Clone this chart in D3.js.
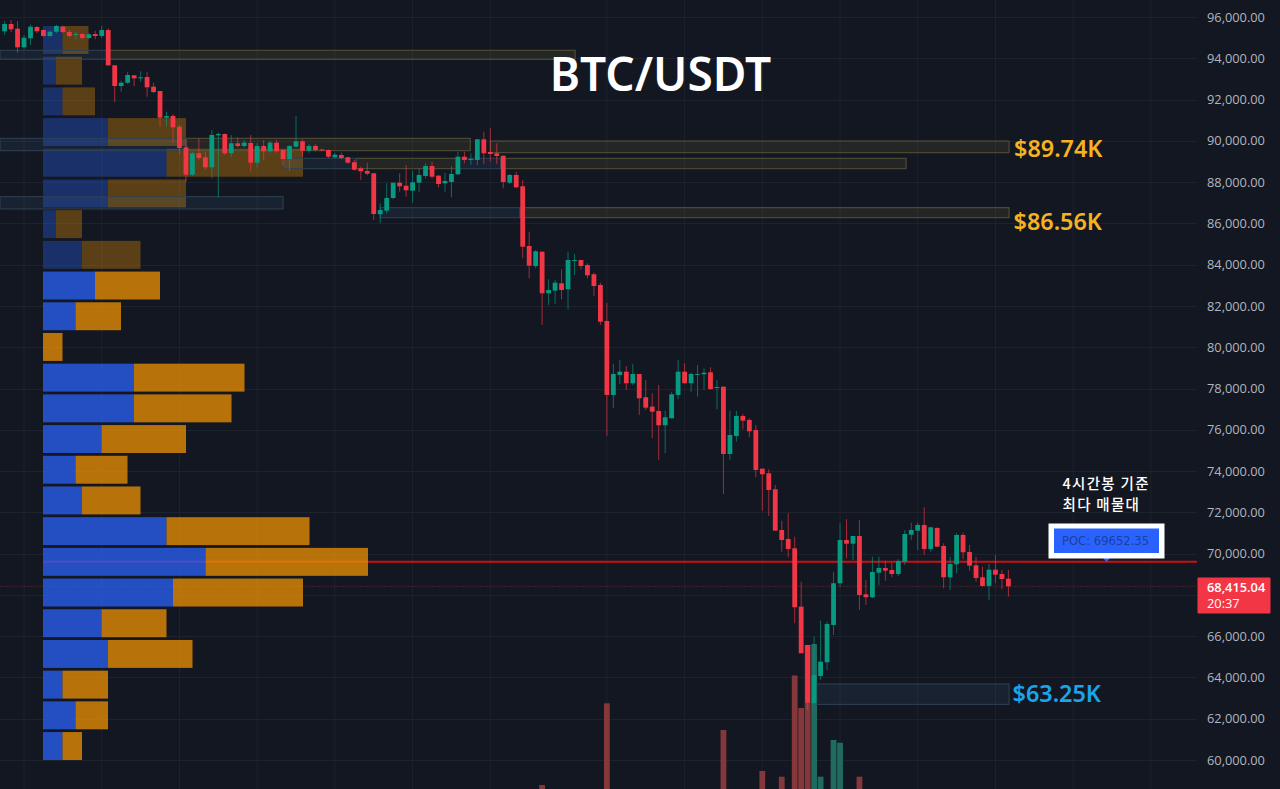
<!DOCTYPE html>
<html><head><meta charset="utf-8">
<script src="https://cdn.jsdelivr.net/npm/d3@7"></script>
<style>html,body{margin:0;padding:0;background:#131722;overflow:hidden}svg{display:block}</style>
</head><body><svg id="c" width="1280" height="789"></svg>
<script>
// Candles: [open, high, low, close]
const ohlc = [
[95307,95806,95128,95661],[95661,95855,95273,95404],[95433,95806,94270,94532],[94532,95128,94450,94997],
[94968,95627,94644,95530],[95516,95564,95225,95307],[95370,95404,95045,95079],[95079,95336,95045,95288],
[95288,95627,95210,95564],[95530,95598,95210,95273],[95273,95370,95016,95079],[95128,95273,94920,95176],
[95176,95210,94920,94983],[94983,95210,94920,95162],[95176,95336,94920,95079],[95079,95564,94968,95370],
[95370,95453,93626,93660],[93660,93660,91882,92657],[92657,92914,92381,92817],[92817,93350,92754,93190],
[93175,93190,92657,93030],[93030,93369,92865,93078],[93093,93335,92139,92594],[92623,92817,92303,92366],
[92415,92415,90685,91121],[91121,91412,90719,91203],[91203,91300,89910,90656],[90685,90768,89362,89653],
[89687,90089,88020,88359],[88359,89474,88297,89396],[89396,90123,89072,89168],[89203,89474,88621,88718],
[88718,90525,88185,90283],[90269,90394,87265,90332],[90332,90365,89314,89396],[89396,90283,89232,89881],
[89881,90172,89687,89750],[89750,90041,89687,89910],[89895,90283,88525,88941],[88941,89881,88718,89750],
[89750,90041,89072,89493],[89493,90007,89425,89910],[89910,90041,89425,89493],[89556,89590,88781,89120],
[89120,89799,88554,89750],[89716,91203,89687,89978],[89978,90075,89232,89522],[89522,89847,89425,89750],
[89750,89847,89493,89556],[89580,89620,89522,89556],[89556,89590,89168,89232],[89203,89425,89135,89328],
[89314,89425,89106,89168],[89203,89232,88878,88941],[88960,89072,88554,88602],[88670,88747,88103,88525],
[88539,88941,88330,88408],[88427,88427,86165,86455],[86441,86974,86005,86649],[86615,87943,86490,87231],
[87231,87972,87168,87972],[87972,88427,87536,87798],[87826,88830,87294,87604],[87584,88554,87003,87991],
[87972,88670,87536,88345],[88297,88912,88185,88781],[88781,88989,88185,88263],[88311,88345,87749,87909],
[87943,88456,87536,88055],[88006,88781,87265,88393],[88379,89474,88345,89232],[89232,89474,88912,89072],
[89086,89396,88830,89120],[89072,90075,88830,90075],[90075,90443,88878,89396],[89459,90608,88989,89362],
[89396,89881,88878,89266],[89280,89280,87700,88006],[87972,88393,87909,88345],[88345,88505,87700,87749],
[87798,88103,84309,84871],[84905,85598,83340,83951],[83936,84711,83824,84648],[84629,84629,81078,82613],
[82613,83291,82047,82773],[82740,83258,82096,83127],[83098,83776,82323,82773],[82807,84629,81838,84227],
[84193,84518,83500,84227],[84227,84227,83776,83936],[83985,84067,83340,83485],[83534,83612,82483,82967],
[83016,83127,81078,81237],[81272,82158,75700,77686],[77686,79188,77041,78704],[78655,79382,78219,78815],
[78815,79091,77928,78253],[78253,79188,78170,78704],[78704,78704,76717,77526],[77575,78413,76960,77071],
[77120,77768,75588,76877],[76911,78170,74537,76218],[76218,76925,74861,76606],[76557,77846,76557,77720],
[77686,79382,77478,78815],[78815,79222,78253,78253],[78253,78766,77846,78704],[78670,79140,77604,78704],
[78690,78980,77928,78766],[78786,79028,77928,77976],[78026,78413,76993,78074],[78088,78088,72890,74827],
[74827,76925,74537,75748],[75700,76925,75423,76669],[76669,76766,76024,76441],[76475,76557,75636,75927],
[75990,76233,73699,74052],[74115,74115,72080,73844],[73892,74086,71824,73083],[73117,73325,71111,71111],
[71145,71596,70094,70660],[70709,71955,69822,70225],[70258,70821,66625,67400],[67430,68640,65172,65172],
[65574,65574,62424,62778],[62749,65976,62749,64120],[64072,66750,63878,64764],[64735,66703,64362,66591],
[66543,69125,66058,68563],[68563,71470,68369,70660],[70660,71663,69774,70482],[70482,70854,69692,70854],
[70854,71630,67270,67996],[68030,68723,67512,67885],[67885,69851,67836,69110],[69076,69851,68481,69304],
[69304,69658,68689,69173],[69207,69561,68853,69013],[69013,69725,68916,69643],[69609,71145,69449,70951],
[70917,71499,70660,71145],[71111,71499,70176,71387],[71387,72245,69934,70225],[70225,71276,70094,71276],
[71242,71276,70307,70337],[70370,70501,68320,68853],[68853,69851,68238,69498],[69483,70985,69047,70903],
[70903,71015,69725,70065],[70080,70418,69173,69416],[69435,69851,68640,68820],[68853,69367,68399,68433],
[68433,69498,67754,69222],[69222,69934,68563,68979],[69013,69207,68272,68771],[68786,69207,67914,68415]
];
// Volume bars (only those tall enough to show)
const volIndex = [83,93,111,117,120,122,123,124,125,126,128,129,132];
const volValue = [1000,9170,6500,2400,1830,11950,8700,15000,15100,1830,5500,5230,1830];
// Volume profile, top row to bottom row
const profileBuy  = [3,2,3,10,19,10,2,6,8,5,0,14,14,9,5,6,19,25,20,9,10,3,5,3];
const profileSell = [4,4,5,12,21,12,4,9,10,7,3,17,15,13,8,9,22,25,20,10,13,7,5,3];
const profileDimRows = 8;
const profileHigh = 95564, profileLow = 60000;
// Zones: start candle, end candle, high, low
const oliveZones = [
 [16,88.1,94387,93951],[28,71.9,90123,89522],[75,155.1,89992,89425],
 [54.3,69.9,89154,88650],[76.6,139.2,89154,88650],[79.6,155.1,86761,86276]];
const blueZones = [
 [-0.7,16,94387,93951],[-0.7,28,90123,89522],[-0.7,43,87294,86698],
 [43,54.3,89154,88650],[69.9,76.6,89154,88650],[58,79.6,86761,86276],[125.4,155.1,63684,62696]];
const gridIndex = [3,15,27,39,51,63,75,93,105,117,129,141,153,165,177];
const priceTicks = d3.range(60000,96001,2000);
const hiddenLabelTick = 68000; // covered by the last-price tag
const pocPrice = 69652.35, lastPrice = 68415.04;

const W=1280,H=789;
const x = d3.scaleLinear().domain([0,155]).range([4.6,1008.4]);
const y = d3.scaleLinear().domain([96000,60000]).range([17,760]);
const vol = d3.scaleLinear().domain([0,15100]).range([795,644]);
const prof = d3.scaleLinear().domain([0,50]).range([43,43+50*6.5]);
const rows = d3.scaleBand().domain(d3.range(profileBuy.length)).range([y(profileHigh),y(profileLow)]).paddingInner(0.09);
const svg = d3.select('#c');
const RED='#f23645',GREEN='#089981',BG='#131722',GRID='#1e222d';
const FONT='"Open Sans",sans-serif';

svg.append('rect').attr('width',W).attr('height',H).attr('fill',BG);
// grid
svg.append('g').selectAll('line').data(gridIndex).join('line')
 .attr('x1',d=>x(d)).attr('x2',d=>x(d)).attr('y1',0).attr('y2',H).attr('stroke',GRID);
svg.append('g').selectAll('line').data(priceTicks).join('line')
 .attr('x1',0).attr('x2',1197).attr('y1',d=>Math.round(y(d))+.5).attr('y2',d=>Math.round(y(d))+.5).attr('stroke',GRID);
// volume
svg.append('g').selectAll('rect').data(volIndex).join('rect')
 .attr('x',d=>x(d)-2.9).attr('width',5.8)
 .attr('y',(d,i)=>vol(volValue[i])).attr('height',(d,i)=>vol(0)-vol(volValue[i]))
 .attr('fill',d=>ohlc[d][3]>=ohlc[d][0]?'#1f6b60':'#853739');
// price lines
svg.append('line').attr('x1',0).attr('x2',1197).attr('y1',y(lastPrice)).attr('y2',y(lastPrice))
 .attr('stroke','#4a2029').attr('stroke-dasharray','2 1');
svg.append('line').attr('x1',43).attr('x2',1197).attr('y1',y(pocPrice)+1).attr('y2',y(pocPrice)+1)
 .attr('stroke','#c81216').attr('stroke-width',2);
// profile
const pg=svg.append('g');
pg.selectAll('rect.b').data(profileBuy).join('rect').attr('class','b')
 .attr('x',prof(0)).attr('width',d=>prof(d)-prof(0)).attr('y',(d,i)=>rows(i)).attr('height',rows.bandwidth())
 .attr('fill','#285eec').attr('fill-opacity',(d,i)=>i<profileDimRows?.35:.8);
pg.selectAll('rect.s').data(profileSell).join('rect').attr('class','s')
 .attr('x',(d,i)=>prof(profileBuy[i])).attr('width',(d)=>prof(d)-prof(0)).attr('y',(d,i)=>rows(i)).attr('height',rows.bandwidth())
 .attr('fill','#e18b04').attr('fill-opacity',(d,i)=>i<profileDimRows?.35:.8);
// zones
function zones(data,fill,stroke){
 svg.append('g').selectAll('rect').data(data).join('rect')
  .attr('x',d=>x(d[0])).attr('width',d=>x(d[1])-x(d[0]))
  .attr('y',d=>y(d[2])).attr('height',d=>y(d[3])-y(d[2]))
  .attr('fill',fill[0]).attr('fill-opacity',fill[1]).attr('stroke',stroke);
}
zones(oliveZones,['#b8b040',.1],'#545336');
zones(blueZones,['#4a8ab8',.1],'#2f4252');
// candles
const cg=svg.append('g').selectAll('g').data(ohlc).join('g');
const col=d=>d[3]>=d[0]?GREEN:RED;
cg.append('line').attr('x1',(d,i)=>x(i)).attr('x2',(d,i)=>x(i))
 .attr('y1',d=>y(d[1])).attr('y2',d=>y(d[2])).attr('stroke',col).attr('stroke-width',1).attr('stroke-opacity',.65);
cg.append('rect').attr('x',(d,i)=>x(i)-2.4).attr('width',4.8)
 .attr('y',d=>y(Math.max(d[0],d[3]))).attr('height',d=>Math.max(1,Math.abs(y(d[0])-y(d[3]))))
 .attr('fill',col);
// axis
const axis=d3.axisRight(y).tickValues(priceTicks.filter(t=>t!==hiddenLabelTick)).tickSize(0).tickPadding(0).tickFormat(d3.format(',.2f'));
const ag=svg.append('g').attr('transform','translate(1207,0)').call(axis);
ag.select('.domain').remove();
ag.selectAll('text').attr('font-family',FONT).attr('font-size',12.8).attr('fill','#b2b5be');
// last price tag
svg.append('rect').attr('x',1197.5).attr('y',577.5).attr('width',73).attr('height',36).attr('rx',1).attr('fill',RED);
svg.append('text').text('68,415.04').attr('x',1207).attr('y',592).attr('font-family',FONT).attr('font-size',12.8).attr('font-weight',600).attr('fill','#fff');
svg.append('text').text('20:37').attr('x',1207).attr('y',608).attr('font-family',FONT).attr('font-size',12.8).attr('fill','#fff');
// title and labels
svg.append('text').text('BTC/USDT').attr('x',660.5).attr('y',91).attr('text-anchor','middle')
 .attr('font-family','"Noto Sans",sans-serif').attr('font-weight',600).attr('font-size',46).attr('fill','#fff');
const big=[['$89.74K',1014,156.5,'#f5b321'],['$86.56K',1013.5,229.5,'#f5b321'],['$63.25K',1012.5,701.5,'#19a5ec']];
svg.append('g').selectAll('text').data(big).join('text').text(d=>d[0]).attr('x',d=>d[1]).attr('y',d=>d[2])
 .attr('font-family','"Noto Sans",sans-serif').attr('font-weight',600).attr('font-size',23.4).attr('fill',d=>d[3]);
// POC note
const ko=['4시간봉 기준','최다 매물대'];
svg.append('g').selectAll('text').data(ko).join('text').text(d=>d).attr('x',1062.5).attr('y',(d,i)=>489+i*21)
 .attr('font-family','"Noto Sans CJK KR",sans-serif').attr('font-weight',500).attr('font-size',14.5).attr('letter-spacing',1.3).attr('fill','#fff');
svg.append('path').attr('d','M1102,557L1106.5,562L1111,557Z').attr('fill','#2962ff');
svg.append('rect').attr('x',1048.5).attr('y',523.5).attr('width',116).attr('height',35).attr('fill','#fff');
svg.append('rect').attr('x',1054).attr('y',528.5).attr('width',105).attr('height',24.5).attr('fill','#2962ff');
svg.append('text').text('POC: 69652.35').attr('x',1062).attr('y',544.5)
 .attr('font-family','"DejaVu Sans",sans-serif').attr('font-size',11.6).attr('fill','#1e3f9c');
</script></body></html>
